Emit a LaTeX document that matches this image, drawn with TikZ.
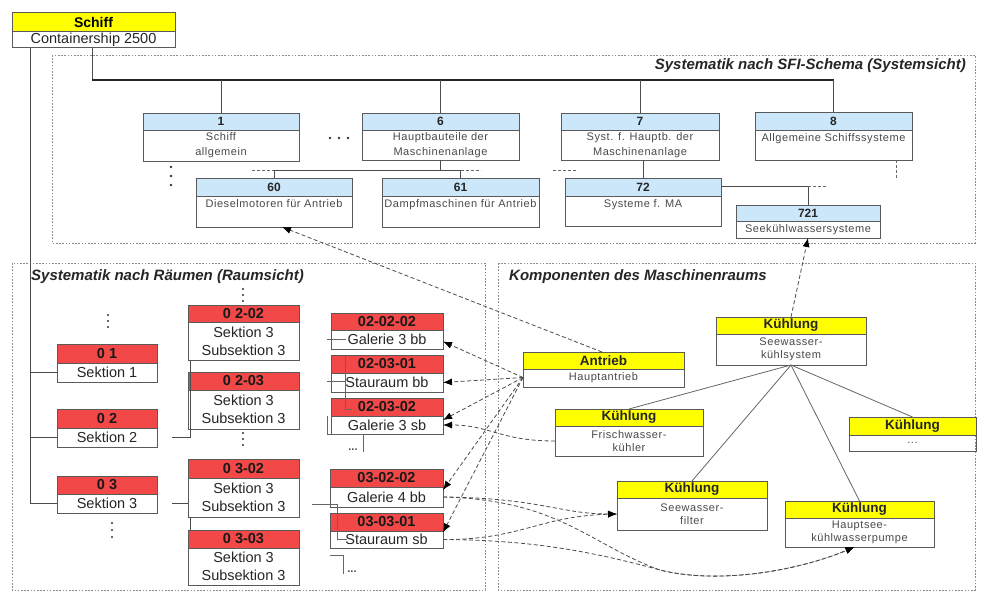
\documentclass[tikz,border=0pt]{standalone}
\usepackage{fontspec}
\setmainfont{Liberation Sans}
\newfontfamily\spacedfont[LetterSpace=5]{Liberation Sans}
\usetikzlibrary{arrows.meta,calc}

\definecolor{shipyellow}{HTML}{FFFF00}
\definecolor{sfiblue}{HTML}{CCE6FA}
\definecolor{roomred}{HTML}{F24848}
\definecolor{framegray}{HTML}{5A5A5A}
\definecolor{textgray}{HTML}{4A4A4A}

\tikzset{
  boxframe/.style={draw=framegray, line width=1pt, inner sep=0pt, outer sep=0pt, rectangle},
  shipfill/.style={fill=shipyellow},
  shiphdr/.style={font=\bfseries\fontsize{14}{16}\selectfont},
  shipbody/.style={font=\fontsize{14.5}{16}\selectfont, text=black!85},
  sfifill/.style={fill=sfiblue},
  sfihdr/.style={font=\bfseries\fontsize{12}{14}\selectfont, text=black!85},
  sfibody/.style={font=\spacedfont\fontsize{11}{15}\selectfont, text=textgray, align=center},
  roomfill/.style={fill=roomred},
  roomhdr/.style={font=\bfseries\fontsize{14.5}{16}\selectfont, text=black!90},
  roombody/.style={font=\fontsize{14.5}{18}\selectfont, text=black!85, align=center},
  compfill/.style={fill=shipyellow},
  comphdr/.style={font=\bfseries\fontsize{13.5}{16}\selectfont, text=black!85},
  compbody/.style={font=\spacedfont\fontsize{11}{13.5}\selectfont, text=textgray, align=center},
  viewframe/.style={draw=black!45, line width=0.9pt, dash pattern=on 1.6pt off 1.6pt},
  viewtitle/.style={font=\bfseries\itshape\fontsize{15}{17}\selectfont, text=black!85, inner sep=0pt},
  tree/.style={draw=black!70, line width=1pt},
  treemain/.style={draw=black!85, line width=1.8pt},
  treeopen/.style={draw=black!60, line width=1pt, dash pattern=on 3pt off 2pt},
  part/.style={draw=black!60, line width=0.8pt},
  link/.style={draw=black!70, line width=0.8pt, dash pattern=on 4pt off 2.5pt},
  linkarrow/.style={link, -{Latex[length=9pt,width=7pt,black]}},
  dotfill/.style={fill=black!80},
  moretext/.style={font=\bfseries\fontsize{11}{12}\selectfont, text=black!70, inner sep=0pt},
}

% #1 name, #2/#3 top left, #4/#5 bottom right, #6 divider y, #7 kind, #8 header, #9 body
\newcommand\twobox[9]{%
  \fill[#7fill] (#2,#3) rectangle (#4,#6);
  \draw[framegray, line width=0.8pt] (#2,#6) -- (#4,#6);
  \node[boxframe, minimum width={#4-#2}, minimum height={#5-#3}] (#1) at ({(#2+#4)/2},{(#3+#5)/2}) {};
  \node[#7hdr, inner sep=0pt] (#1-h) at ({(#2+#4)/2},{(#3+#6)/2}) {#8};
  \node[#7body, inner sep=0pt] (#1-b) at ({(#2+#4)/2},{(#6+#5)/2}) {#9};
}

\begin{document}
\begin{tikzpicture}[x=1pt,y=-1pt]
\useasboundingbox (0,0) rectangle (982,594);
\fill[white] (0,0) rectangle (982,594);

% views
\draw[viewframe] (52,55) rectangle (975,243);
\draw[viewframe] (12,263) rectangle (485,590);
\draw[viewframe] (498,263) rectangle (975,590);
\node[viewtitle, anchor=east] (t-sfi) at (966,66) {Systematik nach SFI-Schema (Systemsicht)};
\node[viewtitle, anchor=west] (t-rooms) at (31,277) {Systematik nach Räumen (Raumsicht)};
\node[viewtitle, anchor=west] (t-comp) at (509,277) {Komponenten des Maschinenraums};

% ship
\twobox{ship}{12}{13}{175}{48}{31}{ship}{Schiff}{Containership 2500}

% SFI system view
\twobox{s1}{143}{113}{299}{161}{130}{sfi}{1}{Schiff\\allgemein}
\twobox{s6}{362}{113}{519}{160}{130}{sfi}{6}{Hauptbauteile der\\Maschinenanlage}
\twobox{s7}{561}{113}{719}{160}{130}{sfi}{7}{Syst. f. Hauptb. der\\Maschinenanlage}
\twobox{s8}{755}{112}{912}{160}{130}{sfi}{8}{Allgemeine Schiffssysteme\\\mbox{}}
\twobox{s60}{196}{178}{352}{227}{196}{sfi}{60}{Dieselmotoren für Antrieb\\\mbox{}}
\twobox{s61}{382}{178}{539}{227}{196}{sfi}{61}{Dampfmaschinen für Antrieb\\\mbox{}}
\twobox{s72}{565}{178}{721}{226}{196}{sfi}{72}{Systeme f. MA\\\mbox{}}
\twobox{s721}{736}{205}{880}{238}{221}{sfi}{721}{Seekühlwassersysteme}

% room view
\twobox{r01}{57}{344}{157}{382}{363}{room}{0 1}{Sektion 1}
\twobox{r02}{57}{409}{157}{447}{428}{room}{0 2}{Sektion 2}
\twobox{r03}{57}{476}{157}{513}{494}{room}{0 3}{Sektion 3}
\twobox{r0202}{188}{305}{299}{360}{322}{room}{0 2-02}{Sektion 3\\Subsektion 3}
\twobox{r0203}{188}{372}{299}{429}{390}{room}{0 2-03}{Sektion 3\\Subsektion 3}
\twobox{r0302}{188}{459}{299}{517}{478}{room}{0 3-02}{Sektion 3\\Subsektion 3}
\twobox{r0303}{188}{530}{299}{585}{548}{room}{0 3-03}{Sektion 3\\Subsektion 3}
\twobox{g1}{331}{313}{443}{349}{330}{room}{02-02-02}{Galerie 3 bb}
\twobox{g2}{331}{355}{443}{392}{373}{room}{02-03-01}{Stauraum bb}
\twobox{g3}{331}{398}{443}{434}{416}{room}{02-03-02}{Galerie 3 sb}
\twobox{g4}{330}{469}{443}{507}{487}{room}{03-02-02}{Galerie 4 bb}
\twobox{g5}{330}{513}{443}{548}{531}{room}{03-03-01}{Stauraum sb}

% engine room components
\twobox{ant}{523}{352}{684}{387}{369}{comp}{Antrieb}{Hauptantrieb}
\twobox{sks}{716}{317}{866}{365}{334}{comp}{Kühlung}{Seewasser-\\kühlsystem}
\twobox{fwk}{555}{409}{703}{456}{426}{comp}{Kühlung}{Frischwasser-\\kühler}
\twobox{kx}{849}{417}{976}{451}{435}{comp}{Kühlung}{...}
\twobox{swf}{617}{481}{767}{530}{498}{comp}{Kühlung}{Seewasser-\\filter}
\twobox{hsp}{785}{501}{934}{547}{518}{comp}{Kühlung}{Hauptsee-\\kühlwasserpumpe}

% ship to SFI tree
\coordinate (bus) at (0,80);
\coordinate (bus6) at (0,170);
\coordinate (bus72) at (0,186);
\coordinate (sfiroot) at ($(ship.south west)+(80,0)$);
\draw[tree] (sfiroot) -- (sfiroot |- bus);
\draw[treemain] (sfiroot |- bus) -- (s8.north |- bus);
\draw[tree] (s1.north |- bus) -- (s1.north);
\draw[tree] (s6.north |- bus) -- (s6.north);
\draw[tree] (s7.north |- bus) -- (s7.north);
\draw[tree] (s8.north |- bus) -- (s8.north);
\fill[dotfill] (330,138) circle (1.3) (339,138) circle (1.3) (348,138) circle (1.3);
\fill[dotfill] (171,167) circle (1.3) (171,176) circle (1.3) (171,185) circle (1.3);

\draw[tree] (s6.south) -- (s6.south |- bus6);
\draw[tree] (s60.north |- bus6) -- (s61.north |- bus6);
\draw[tree] (s60.north |- bus6) -- (s60.north);
\draw[tree] (s61.north |- bus6) -- (s61.north);
\draw[treeopen] ($(s60.north |- bus6)+(-22,0)$) -- (s60.north |- bus6);
\draw[treeopen] (s61.north |- bus6) -- ++(20,0);

\draw[tree] (s72.north |- s7.south) -- (s72.north);
\draw[treeopen] ($(s72.north |- bus6)+(-90,0)$) -- ++(24,0);
\draw[tree] (s72.east |- bus72) -- (s721.north |- bus72) -- (s721.north);
\draw[treeopen] (s721.north |- bus72) -- ++(18,0);
\draw[treeopen] ($(s8.south)+(63,0)$) -- ++(0,20);

% ship to room tree
\coordinate (trunk) at ($(ship.south west)+(18,0)$);
\draw[tree] (trunk) |- (r03.west |- r03-b);
\draw[tree] (trunk |- r01-b) -- (r01.west |- r01-b);
\draw[tree] (trunk |- r02-b) -- (r02.west |- r02-b);
\fill[dotfill] (108,315) circle (1.2) (108,321) circle (1.2) (108,327) circle (1.2);
\fill[dotfill] (112,523) circle (1.2) (112,530) circle (1.2) (112,537) circle (1.2);
\fill[dotfill] (243,289) circle (1.2) (243,295) circle (1.2) (243,301) circle (1.2);
\fill[dotfill] (243,433) circle (1.2) (243,439) circle (1.2) (243,445) circle (1.2);

\draw[tree] ($(r02.east |- r02-b)+(15,0)$) -| ($(r0202.south west)+(2,0)$);
\draw[tree, line width=1.8pt] ($(r03.east |- r03-b)+(15,0)$) -- (r0302.west |- r03-b);
\draw[tree] ($(r0302.south west)+(2,0)$) -- ($(r0303.north west)+(2,0)$);

% room parts
\draw[part] ($(g1.west |- g1-b)+(-4,0)$) -- ++(19,0);
\draw[part] ($(g2.west |- g2-b)+(-4,-1)$) -- ++(18,0);
\draw[part] ($(g2.north west)+(14,1)$) -- ($(g3.north west)+(14,11)$) -- ++(7,0);
\draw[part] ($(g3.south west)+(-4,-18)$) |- ($(g3.south west)+(32,0)$) -- ++(0,18);
\node[moretext] (more1) at ($(g3.south west)+(22,16)$) {...};
\draw[part] ($(g4.west |- g4-b)+(-18,7)$) -| ($(g5.west |- g5-b)+(7,0)$) -- ++(10,0);
\draw[part] ($(g5.south west)+(0,7)$) -| ($(g5.south west)+(13,26)$);
\node[moretext] (more2) at ($(g5.south west)+(22,24)$) {...};

% component structure
\draw[part] (sks.south) -- (fwk.north);
\draw[part] (sks.south) -- (swf.north);
\draw[part] (sks.south) -- (hsp.north);
\draw[part] (sks.south) -- (kx.north);

% assignments
\draw[linkarrow] (sks.north) -- (s721.south);
\draw[linkarrow] ($(ant.north west)+(79,0)$) -- ($(s60.south west)+(86,0)$);
\coordinate (antout) at ($(ant.west)+(0,8)$);
\draw[linkarrow] (antout) -- ($(g1.east |- g1-b)+(0,2)$);
\draw[linkarrow] (antout) -- (g2.east |- g2-b);
\draw[linkarrow] (antout) -- ($(g3.east |- g3-b)+(0,-5)$);
\draw[linkarrow] (antout) -- ($(g4.east |- g4-b)+(0,-7)$);
\draw[linkarrow] (antout) -- ($(g5.east |- g5-b)+(0,-7)$);
\draw[linkarrow] (fwk.west |- fwk-b) .. controls (500,441) and (490,425) .. (g3.east |- g3-b);
\draw[linkarrow] (g4.east |- g4-b) .. controls (540,498) and (560,514) .. (swf.west |- swf-b);
\draw[linkarrow] (g5.east |- g5-b) .. controls (520,540) and (540,516) .. (swf.west |- swf-b);
\draw[linkarrow] (g4.east |- g4-b) .. controls (560,500) and (590,545) .. (660,570) .. controls (720,585) and (800,570) .. ($(hsp.south)+(-5,0)$);
\draw[linkarrow] (g5.east |- g5-b) .. controls (520,540) and (580,548) .. (660,570) .. controls (720,585) and (800,570) .. ($(hsp.south)+(-5,0)$);
\end{tikzpicture}
\end{document}
